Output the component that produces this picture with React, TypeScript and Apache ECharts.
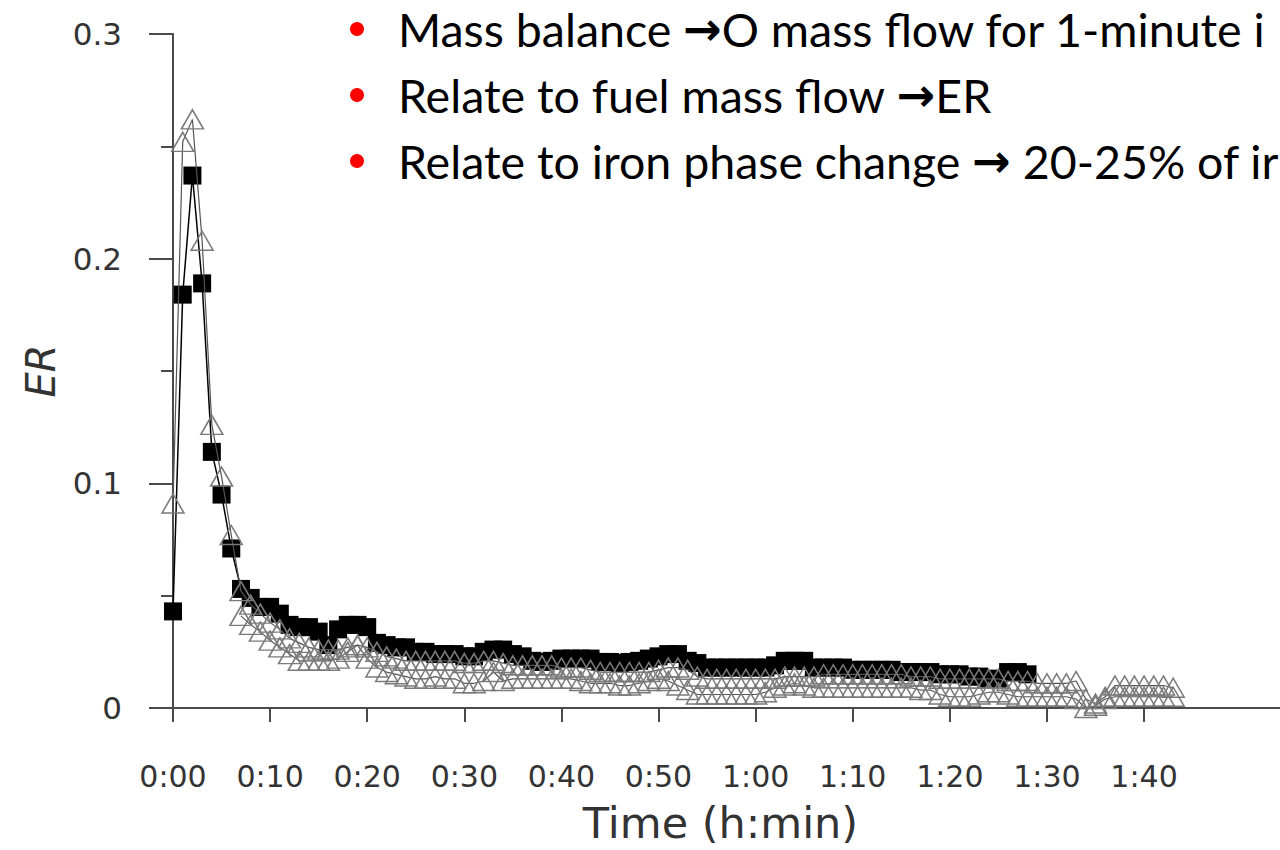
import React, { useEffect, useRef } from "react";
import * as echarts from "echarts";

// Time in minutes for x ticks
const tickMinutes = [0, 10, 20, 30, 40, 50, 60, 70, 80, 90, 100];
const tickLabels = ["0:00", "0:10", "0:20", "0:30", "0:40", "0:50", "1:00", "1:10", "1:20", "1:30", "1:40"];

// Black squares: 1-minute intervals starting at minute 0
const squareStart = 0;
const squareER = [
  0.043, 0.184, 0.237, 0.189, 0.114, 0.095, 0.071, 0.053, 0.049, 0.045,
  0.045, 0.042, 0.037, 0.036, 0.036, 0.034, 0.028, 0.035, 0.037, 0.037,
  0.036, 0.029, 0.028, 0.027, 0.027, 0.025, 0.025, 0.024, 0.024, 0.024,
  0.023, 0.023, 0.025, 0.026, 0.026, 0.024, 0.023, 0.021, 0.0205, 0.021,
  0.022, 0.022, 0.022, 0.022, 0.0205, 0.0205, 0.020, 0.0205, 0.021, 0.022,
  0.023, 0.024, 0.024, 0.021, 0.020, 0.018, 0.018, 0.018, 0.018, 0.018,
  0.018, 0.018, 0.019, 0.021, 0.021, 0.021, 0.018, 0.018, 0.018, 0.018,
  0.017, 0.017, 0.017, 0.017, 0.017, 0.016, 0.016, 0.016, 0.016, 0.015,
  0.015, 0.015, 0.014, 0.014, 0.013, 0.013, 0.016, 0.016, 0.015,
];

// Open triangles (upper row), starting at minute 0
const triUpperStart = 0;
const triUpperER = [
  0.091, 0.252, 0.262, 0.208, 0.126, 0.103, 0.077, 0.052, 0.046, 0.042,
  0.038, 0.035, 0.031, 0.029, 0.027, 0.026, 0.026, 0.026, 0.027, 0.028,
  0.027, 0.025, 0.023, 0.022, 0.021, 0.021, 0.021, 0.021, 0.021, 0.021,
  0.020, 0.020, 0.021, 0.021, 0.020, 0.019, 0.019, 0.019, 0.019, 0.019,
  0.018, 0.018, 0.018, 0.017, 0.016, 0.016, 0.016, 0.016, 0.016, 0.016,
  0.017, 0.018, 0.018, 0.017, 0.014, 0.013, 0.013, 0.013, 0.013, 0.013,
  0.013, 0.013, 0.013, 0.014, 0.014, 0.014, 0.014, 0.015, 0.015, 0.015,
  0.015, 0.015, 0.015, 0.015, 0.015, 0.015, 0.014, 0.014, 0.014, 0.013,
  0.013, 0.013, 0.013, 0.013, 0.013, 0.013, 0.012, 0.012, 0.012, 0.011,
  0.011, 0.011, 0.011, 0.012, 0.004, 0.002, 0.005, 0.010, 0.010, 0.010,
  0.010, 0.010, 0.010, 0.009,
];

// Open triangles (lower row), starting at minute 7
const triLowerStart = 7;
const triLowerER = [
  0.041, 0.037, 0.034, 0.030, 0.027, 0.024, 0.021, 0.021, 0.021, 0.021,
  0.022, 0.025, 0.028, 0.022, 0.018, 0.016, 0.015, 0.014, 0.013, 0.013,
  0.014, 0.013, 0.013, 0.011, 0.011, 0.012, 0.016, 0.012, 0.013, 0.013,
  0.013, 0.013, 0.013, 0.013, 0.013, 0.012, 0.011, 0.011, 0.011, 0.010,
  0.010, 0.011, 0.012, 0.013, 0.012, 0.010, 0.008, 0.006, 0.006, 0.006,
  0.006, 0.006, 0.006, 0.006, 0.007, 0.009, 0.010, 0.011, 0.010, 0.009,
  0.009, 0.009, 0.009, 0.009, 0.009, 0.009, 0.009, 0.009, 0.009, 0.009,
  0.008, 0.008, 0.006, 0.005, 0.005, 0.005, 0.006, 0.007, 0.007, 0.006,
  0.005, 0.005, 0.005, 0.005, 0.005, 0.005, 0.004, 0.000, 0.001, 0.004,
  0.005, 0.005, 0.005, 0.005, 0.005, 0.005, 0.005,
];

// Bullet lines: [before arrow, after arrow]
const bulletLines = [
  ["Mass balance ", "O mass flow for 1-minute i"],
  ["Relate to fuel mass flow ", "ER"],
  ["Relate to iron phase change ", " 20-25% of ir"],
];

const toPairs = (start: number, arr: number[]) => arr.map((v, i) => [start + i, v]);

export default function App() {
  const ref = useRef<HTMLDivElement>(null);
  useEffect(() => {
    if (!ref.current) return;
    const chart = echarts.init(ref.current, undefined, { renderer: "svg" });
    const axisColor = "#4a4a4a";
    const textColor = "#333";
    const font = "DejaVu Sans";
    const triStyle = {
      type: "line" as const,
      symbol: "triangle",
      symbolSize: [22, 19],
      clip: false,
      itemStyle: { color: "rgba(255,255,255,0)", borderColor: "#7a7a7a", borderWidth: 1.5 },
      lineStyle: { color: "#555", width: 1.2 },
      z: 3,
    };
    const bulletFont = { fontFamily: "Lato", fontSize: 46.5, fill: "#000" };
    chart.setOption({
      animation: false,
      backgroundColor: "#fff",
      grid: { left: 173, top: 34, height: 674, width: 1110 },
      xAxis: {
        type: "value",
        min: 0,
        max: 114,
        interval: 10,
        name: "Time (h:min)",
        nameLocation: "middle",
        nameGap: 93,
        nameTextStyle: { fontFamily: font, fontSize: 43, color: textColor, padding: [0, 12, 0, 0] },
        axisLine: { show: true, lineStyle: { color: axisColor, width: 2 } },
        axisTick: { show: true, length: 14, customValues: tickMinutes, lineStyle: { color: axisColor, width: 2 } },
        axisLabel: {
          customValues: tickMinutes,
          margin: 53,
          fontFamily: font,
          fontSize: 30,
          color: textColor,
          formatter: (v: number) => {
            const i = tickMinutes.indexOf(Math.round(v));
            return i >= 0 ? tickLabels[i] : "";
          },
        },
        splitLine: { show: false },
      },
      yAxis: {
        type: "value",
        min: 0,
        max: 0.3,
        interval: 0.1,
        name: "ER",
        nameLocation: "middle",
        nameGap: 112,
        nameTextStyle: { fontFamily: font, fontSize: 40, fontStyle: "italic", color: textColor },
        axisLine: { show: true, lineStyle: { color: axisColor, width: 2 } },
        axisTick: { show: true, length: 24, lineStyle: { color: axisColor, width: 2 } },
        minorTick: { show: true, splitNumber: 2, length: 12, lineStyle: { color: axisColor, width: 2 } },
        axisLabel: {
          margin: 51,
          fontFamily: font,
          fontSize: 31,
          color: textColor,
          formatter: (v: number) => (v === 0 ? "0" : v.toFixed(1)),
        },
        splitLine: { show: false },
      },
      series: [
        {
          type: "line",
          name: "squares",
          data: toPairs(squareStart, squareER),
          symbol: "rect",
          symbolSize: 18,
          clip: false,
          itemStyle: { color: "#000" },
          lineStyle: { color: "#000", width: 1.5 },
          z: 2,
        },
        { ...triStyle, name: "triangles A", data: toPairs(triUpperStart, triUpperER) },
        { ...triStyle, name: "triangles B", data: toPairs(triLowerStart, triLowerER) },
      ],
      graphic: bulletLines.flatMap((parts, i) => [
        { type: "circle", shape: { cx: 357, cy: 29 + i * 66, r: 7 }, style: { fill: "#ff0000" } },
        {
          type: "text",
          x: 398,
          y: 29 + i * 66,
          style: {
            text: `{t|${parts[0]}}{a|\u2192}{t|${parts[1]}}`,
            textVerticalAlign: "middle",
            rich: {
              t: { ...bulletFont },
              a: { fontFamily: "DejaVu Sans", fontWeight: "bold", fontSize: 46, fill: "#000" },
            },
          },
        },
      ]),
    });
    return () => chart.dispose();
  }, []);
  return (
    <div
      ref={ref}
      style={{ position: "absolute", left: 0, top: 0, width: 1280, height: 850, background: "#fff" }}
    />
  );
}
